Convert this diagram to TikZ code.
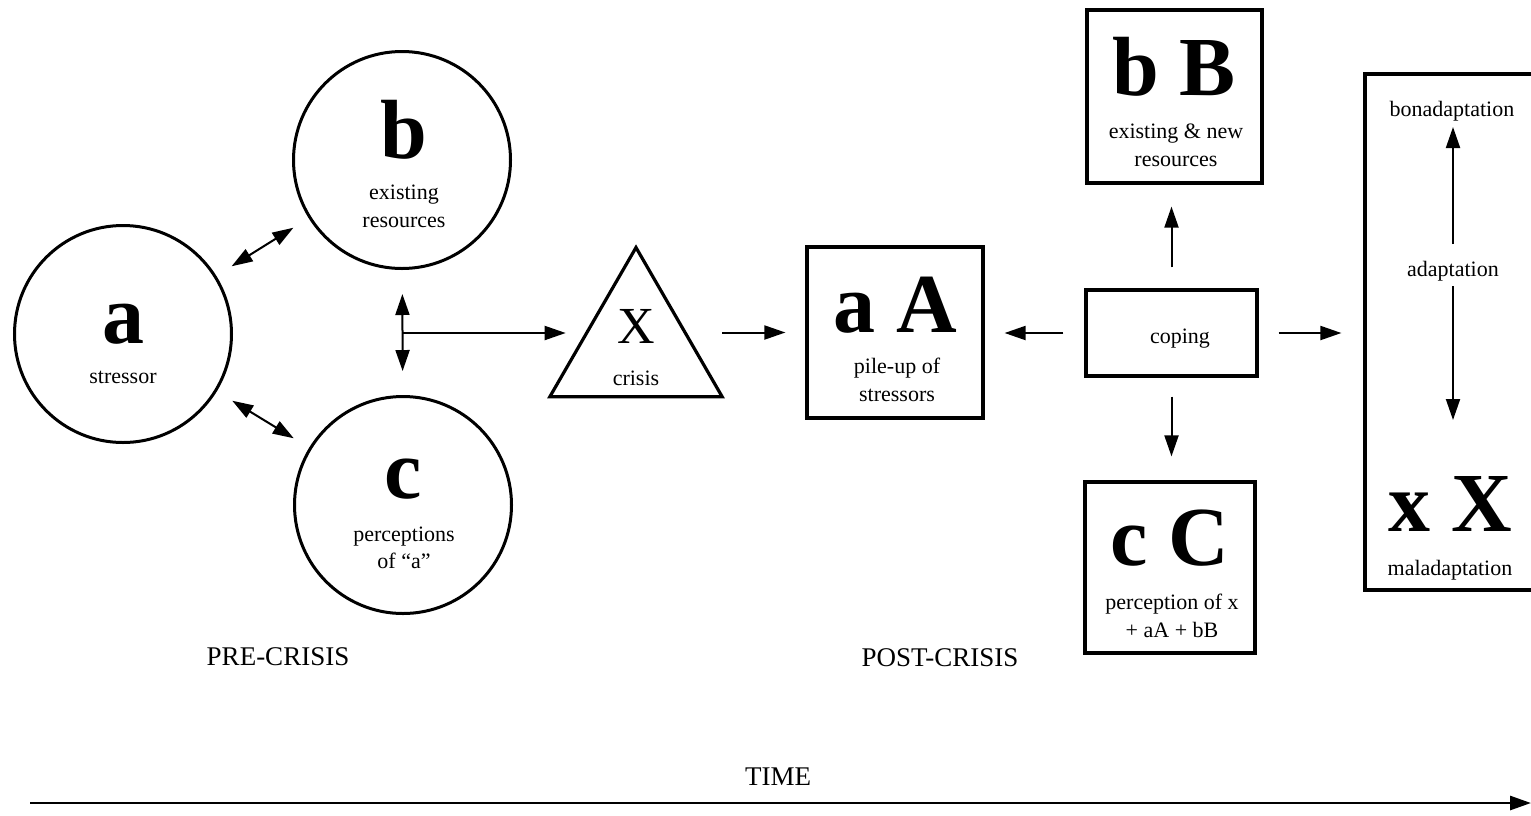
\documentclass[tikz,border=0pt]{standalone}
\usepackage{fontspec}
\setmainfont{Liberation Serif}
\usetikzlibrary{arrows.meta,shapes.geometric}

\newcommand{\biglet}{\fontsize{84}{84}\selectfont\bfseries}
\newcommand{\smalltxt}{\fontsize{22}{24}\selectfont}

\tikzset{
	circ/.style={draw, circle, line width=3pt, minimum size=217pt, inner sep=0pt},
	boxed/.style={draw, rectangle, line width=3.2pt, inner sep=0pt},
	arr/.style={-{Triangle[length=21pt,width=14pt]}, line width=2pt},
	dblarr/.style={{Triangle[length=21pt,width=14pt]}-{Triangle[length=21pt,width=14pt]}, line width=2pt},
	letter/.style={font=\biglet, inner sep=0pt, anchor=base},
	lbl/.style={font=\smalltxt, inner sep=0pt, anchor=base},
	phase/.style={font=\fontsize{27}{30}\selectfont, inner sep=0pt, anchor=base}
}

\begin{document}
\begin{tikzpicture}[x=1pt, y=-1pt]
		\clip(0, 0) rectangle (1531, 815);

		% pre-crisis circles
		\node[circ](a) at(123, 334){};
			\node[letter](alet) at(123, 343){a};
			\node[lbl](astr) at(123, 383){stressor};
		\node[circ](b) at(402, 160){};
			\node[letter](blet) at(404, 158){b};
			\node[lbl](bex) at(404, 199){existing};
			\node[lbl](bres) at(404, 227){resources};
		\node[circ](c) at(403, 505){};
			\node[letter](clet) at(403, 498){c};
			\node[lbl](cper) at(404, 541){perceptions};
			\node[lbl](cof) at(404, 568){of ``a''};

		\draw[dblarr, shorten <=18pt, shorten >=18pt](a) to (b);
		\draw[dblarr, shorten <=18pt, shorten >=18pt](a) to (c);
		\draw[dblarr, shorten <=24pt, shorten >=24pt](b) to (c);
		\coordinate(mid) at(402, 333);

		% crisis
		\node[draw, regular polygon, regular polygon sides=3, line width=3.2pt, minimum size=199pt, inner sep=0pt](crisis) at(636, 347){};
			\node[font=\fontsize{52}{52}\selectfont, inner sep=0pt, anchor=base](xlet) at(636, 343){X};
			\node[lbl](xcri) at(636, 385){crisis};
		\draw[arr, shorten >=11pt](mid) to (mid -| crisis.west);

		% post-crisis boxes
		\node[boxed, minimum width=176pt, minimum height=171pt](aA) at(895, 332.5){};
			\node[letter](aAlet) at(895, 332){a A};
			\node[lbl](aApile) at(897, 373){pile-up of};
			\node[lbl](aAstr) at(897, 401){stressors};
		\draw[arr, shorten <=27pt, shorten >=20pt](aA.west -| crisis.east) to (aA.west);

		\node[boxed, minimum width=171pt, minimum height=86pt](coping) at(1171.5, 333){};
			\node[lbl](copt) at(1180, 343){coping};

		\node[boxed, minimum width=175pt, minimum height=173pt](bB) at(1174.5, 96.5){};
			\node[letter](bBlet) at(1174, 95){b B};
			\node[lbl](bBex) at(1176, 138){existing \& new};
			\node[lbl](bBres) at(1176, 166){resources};

		\node[boxed, minimum width=170pt, minimum height=171pt](cC) at(1170, 567.5){};
			\node[letter](cClet) at(1170, 565){c C};
			\node[lbl](cCper) at(1172, 609){perception of x};
			\node[lbl](cCsum) at(1172, 637){+ aA + bB};

		\draw[arr, shorten <=21pt, shorten >=20pt](coping.west) to (aA.east |- coping.west);
		\draw[arr, shorten <=21pt, shorten >=22pt](coping.north) to (coping.north |- bB.south);
		\draw[arr, shorten <=19pt, shorten >=24pt](coping.south) to (coping.south |- cC.north);

		% outcome box, runs off the right edge
		\node[boxed, minimum width=180pt, minimum height=516pt](adapt) at(1455, 332){};
			\node[lbl](bon) at(1452, 116){bonadaptation};
			\node[lbl](adtxt) at(1453, 276){adaptation};
			\node[letter](xXlet) at(1450, 531){x X};
			\node[lbl](mal) at(1450, 575){maladaptation};
		\draw[arr, shorten <=32pt](adtxt.base) to (adtxt.base |- 0,127);
		\draw[arr](adtxt.base |- 0,286) to (adtxt.base |- 0,420);
		\draw[arr, shorten <=20pt, shorten >=22pt](coping.east) to (adapt.west |- coping.east);

		%%%%%%%%%%%%%%%%%%%%%%%%%%%%
		\node[phase](pre) at(278, 665){PRE-CRISIS};
		\node[phase](post) at(940, 666){POST-CRISIS};
		\node[phase](time) at(778, 785){TIME};
		\coordinate(tstart) at(30, 803);
		\coordinate(tend) at(1531, 803);
		\draw[arr, line width=2.8pt](tstart) to (tend);
\end{tikzpicture}
\end{document}
